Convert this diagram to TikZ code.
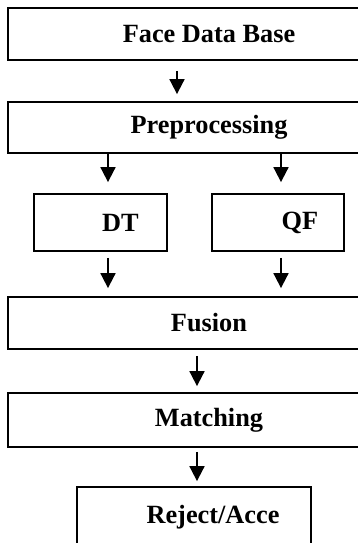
\documentclass[tikz,border=0pt]{standalone}
\usepackage{fontspec}
\setmainfont{Liberation Serif}
\usetikzlibrary{arrows.meta}
\begin{document}
\begin{tikzpicture}[x=1pt,y=-1pt,
  box/.style={draw, line width=1.8pt, inner sep=0pt,
    font=\fontsize{26.3}{30}\selectfont\bfseries},
  wide/.style={box, minimum width=402pt},
  arr/.style={line width=1.8pt, -{Triangle[width=15pt,length=15pt]}}]
\useasboundingbox (0,0) rectangle (358,543);
\clip (0,0) rectangle (358,543);

% processing stages
\node[wide, minimum height=52pt] (fdb) at (209,34) {Face Data Base};
\node[wide, minimum height=51pt] (prep) at (209,127.5) {Preprocessing};
\node[box, minimum width=133pt, minimum height=57pt] (dt) at (100.5,222.5) {\hspace*{40pt}DT};
\node[box, minimum width=132pt, minimum height=57pt] (qf) at (278,222.5) {\hspace*{44pt}QF};
\node[wide, minimum height=52pt] (fus) at (209,323) {Fusion};
\node[wide, minimum height=54pt] (mat) at (209,420) {Matching};
\node[box, minimum width=234pt, minimum height=60pt] (rej) at (194,517) {\hspace*{38pt}Reject/Acce};

% flow arrows
\draw[arr] ([xshift=-32pt,yshift=-10pt]fdb.south) -- ([xshift=-32pt,yshift=7pt]prep.north);
\draw[arr] ([xshift=-101pt]prep.south) -- ([xshift=7.5pt,yshift=11pt]dt.north);
\draw[arr] ([xshift=72pt]prep.south) -- ([xshift=3pt,yshift=11pt]qf.north);
\draw[arr] ([xshift=7.5pt,yshift=-6pt]dt.south) -- ([xshift=-101pt,yshift=8pt]fus.north);
\draw[arr] ([xshift=3pt,yshift=-6pt]qf.south) -- ([xshift=72pt,yshift=8pt]fus.north);
\draw[arr] ([xshift=-12pt,yshift=-6pt]fus.south) -- ([xshift=-12pt,yshift=6pt]mat.north);
\draw[arr] ([xshift=-12pt,yshift=-4pt]mat.south) -- ([xshift=3pt,yshift=5pt]rej.north);
\end{tikzpicture}
\end{document}
